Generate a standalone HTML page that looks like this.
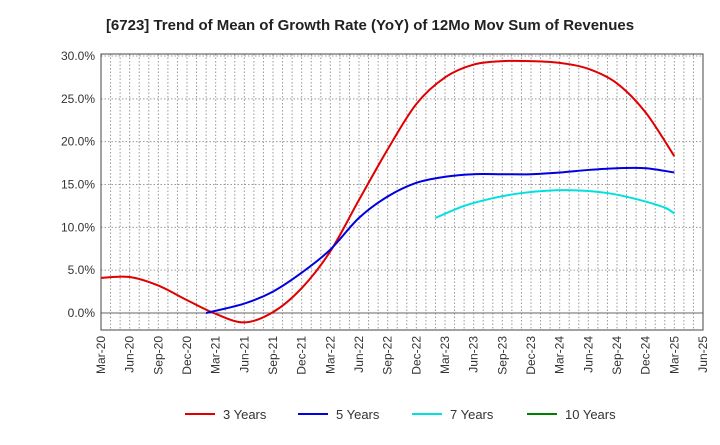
<!DOCTYPE html>
<html><head><meta charset="utf-8"><style>
body{margin:0;background:#fff;font-family:"Liberation Sans",sans-serif}
svg text{font-family:"Liberation Sans",sans-serif}
</style></head><body>
<svg id="c" width="720" height="440" xmlns="http://www.w3.org/2000/svg">
<text x="370" y="30" text-anchor="middle" font-size="15" font-weight="bold" fill="#222">[6723]  Trend of Mean of Growth Rate (YoY) of 12Mo Mov Sum of Revenues</text>
<g id="grid"></g><g id="axes"></g><g id="series"></g><g id="legend"></g>
</svg>
<script>
const xLabels=["Mar-20","Jun-20","Sep-20","Dec-20","Mar-21","Jun-21","Sep-21","Dec-21","Mar-22","Jun-22","Sep-22","Dec-22","Mar-23","Jun-23","Sep-23","Dec-23","Mar-24","Jun-24","Sep-24","Dec-24","Mar-25","Jun-25"];
const yTicks=[0,5,10,15,20,25,30];
const m3=[0,3,6,9,12,15,18,21,24,27,30,33,36,39,42,45,48,51,54,57,60];
const v3=[4.1,4.2,3.2,1.5,-0.1,-1.1,0.1,2.9,7.2,13.2,19.1,24.4,27.5,29.0,29.4,29.4,29.2,28.5,26.8,23.4,18.3];
const m5=[11,15,18,21,24,27,30,33,36,39,42,45,48,51,54,57,60];
const v5=[0.0,1.1,2.5,4.7,7.4,11.1,13.6,15.2,15.9,16.2,16.2,16.2,16.4,16.7,16.9,16.9,16.4];
const m7=[35,38,41,44,47,50,53,56,59,60];
const v7=[11.1,12.5,13.4,14.0,14.3,14.3,14.0,13.3,12.3,11.6];
const m10=[];const v10=[];
const X0=101,X1=703,Y0=54,Y1=330;
const xs=m=>X0+m*(X1-X0)/63;
const ys=v=>313-v*(313-56)/30;
const NS="http://www.w3.org/2000/svg";
function mk(t,a,p){const e=document.createElementNS(NS,t);for(const k in a)e.setAttribute(k,a[k]);p.appendChild(e);return e;}
const g=document.getElementById('grid'),ax=document.getElementById('axes'),se=document.getElementById('series'),lg=document.getElementById('legend');
for(let m=1;m<63;m++){const l=mk('line',{x1:xs(m),x2:xs(m),y1:Y0,y2:Y1,stroke:'#999','stroke-dasharray':'1.5,2','stroke-width':1},g);

}
yTicks.forEach(v=>{const y=ys(v);const l=mk('line',{x1:X0,x2:X1,y1:y,y2:y,stroke:v==0?'#666':'#999','stroke-dasharray':v==0?'':'1.5,2','stroke-width':1},g);


const t=mk('text',{x:X0-6,y:y+4,'text-anchor':'end','font-size':12,fill:'#333'},ax);t.textContent=v.toFixed(1)+'%';

});
const fr=mk('rect',{x:X0,y:Y0,width:X1-X0,height:Y1-Y0,fill:'none',stroke:'#444'},ax);


xLabels.forEach((s,i)=>{const x=xs(i*3);const t=mk('text',{transform:`translate(${x+4},${Y1+6}) rotate(-90)`,'text-anchor':'end','font-size':12,fill:'#333'},ax);t.textContent=s;

});
function path(ms,vs){const p=ms.map((m,i)=>[xs(m),ys(vs[i])]);if(p.length<2)return'';let d=`M${p[0][0]},${p[0][1]}`;
for(let i=0;i<p.length-1;i++){const a=p[Math.max(0,i-1)],b=p[i],c=p[i+1],e=p[Math.min(p.length-1,i+2)];
d+=` C${b[0]+(c[0]-a[0])/6},${b[1]+(c[1]-a[1])/6} ${c[0]-(e[0]-b[0])/6},${c[1]-(e[1]-b[1])/6} ${c[0]},${c[1]}`;}return d;}
[[m3,v3,'#e00000','line-3-years'],[m5,v5,'#0000e0','line-5-years'],[m7,v7,'#00e0e0','line-7-years'],[m10,v10,'#008000','line-10-years']].forEach(s=>{
const d=path(s[0],s[1]);if(!d)return;const p=mk('path',{d:d,fill:'none',stroke:s[2],'stroke-width':2},se);

});
[['3 Years','#e00000',185],['5 Years','#0000e0',298],['7 Years','#00e0e0',412],['10 Years','#008000',527]].forEach(l=>{
const e=mk('g',{},lg);


mk('line',{x1:l[2],x2:l[2]+30,y1:414,y2:414,stroke:l[1],'stroke-width':2},e);
const t=mk('text',{x:l[2]+38,y:419,'font-size':13,fill:'#333'},e);t.textContent=l[0];});
</script>
</body></html>
